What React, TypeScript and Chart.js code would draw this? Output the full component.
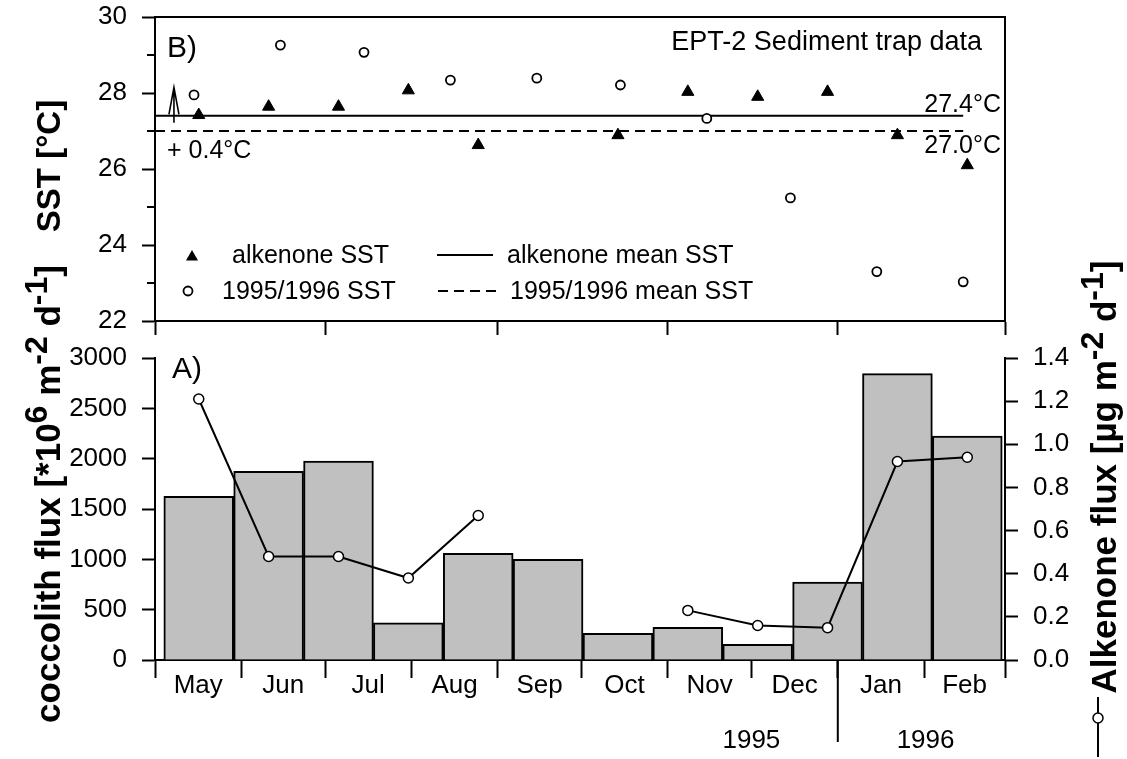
import React, { useEffect, useRef } from 'react';
import { Chart, registerables } from 'chart.js';

Chart.register(...registerables);

const FONT = '"Liberation Sans", Arial, Helvetica, sans-serif';

// ---------------- data (days counted from 1 May 1995) ----------------
const monthLabels = ['May', 'Jun', 'Jul', 'Aug', 'Sep', 'Oct', 'Nov', 'Dec', 'Jan', 'Feb'];
const monthBoundaryDays = [0, 31, 61, 92, 123, 153, 184, 214, 245, 276, 305];
const monthMidDays = [15.5, 46, 76.5, 107.5, 138, 168.5, 199, 229.5, 260.5, 290.5];
const topPanelTickDays = [0, 61, 123, 184, 245, 305];
const yearLabels = ['1995', '1996'];
const yearLabelDays = [214, 276.5];
const yearBoundaryDay = 245;

// sediment trap sampling intervals (mid points)
const trapMidDays = [15.7, 40.77, 65.84, 90.91, 115.98, 141.05, 166.12, 191.19, 216.26, 241.33, 266.4, 291.47];
const coccolithFlux = [1625, 1875, 1975, 370, 1060, 1000, 265, 325, 155, 775, 2845, 2225];
const alkenoneFlux = [1.21, 0.48, 0.48, 0.38, 0.67, null, null, 0.23, 0.16, 0.15, 0.92, 0.94];

// panel B
const alkenoneSSTDays = [15.7, 40.77, 65.84, 90.91, 115.98, 166.12, 191.19, 216.26, 241.33, 266.4, 291.47];
const alkenoneSST = [27.42, 27.64, 27.64, 28.07, 26.63, 26.89, 28.03, 27.9, 28.03, 26.89, 26.1];
const monthlySSTDays = [14, 45, 75, 106, 137, 167, 198, 228, 259, 290];
const monthlySST = [27.95, 29.26, 29.07, 28.34, 28.39, 28.21, 27.33, 25.24, 23.3, 23.03];
const alkenoneMeanSST = 27.4;
const monthlyMeanSST = 27.0;
const meanLineDays = [0, 290];
const arrowDay = 6.8;
const arrowFrom = 27.22;
const arrowTo = 28.15;

type Seg = { t: string; sup?: boolean };

function drawRotatedRich(ctx: CanvasRenderingContext2D, segs: Seg[], baselineX: number, centerY: number, size: number, supScale = 0.78) {
  const fN = `bold ${size}px ${FONT}`;
  const fS = `bold ${Math.round(size * supScale)}px ${FONT}`;
  ctx.save();
  ctx.translate(baselineX, centerY);
  ctx.rotate(-Math.PI / 2);
  const widths = segs.map((s) => {
    ctx.font = s.sup ? fS : fN;
    return ctx.measureText(s.t).width;
  });
  const total = widths.reduce((a, b) => a + b, 0);
  let lx = -total / 2;
  ctx.fillStyle = '#000';
  ctx.textBaseline = 'alphabetic';
  ctx.textAlign = 'left';
  segs.forEach((s, i) => {
    ctx.font = s.sup ? fS : fN;
    ctx.fillText(s.t, lx, s.sup ? -size * 0.38 : 0);
    lx += widths[i];
  });
  ctx.restore();
}

function drawTriangle(ctx: CanvasRenderingContext2D, x: number, y: number, r: number) {
  ctx.beginPath();
  for (let k = 0; k < 3; k++) {
    const a = (k * 2 * Math.PI) / 3;
    const px = x + Math.sin(a) * r;
    const py = y - Math.cos(a) * r;
    if (k === 0) ctx.moveTo(px, py);
    else ctx.lineTo(px, py);
  }
  ctx.closePath();
  ctx.fill();
}

const noPad = (s: any) => {
  s.paddingTop = 0;
  s.paddingBottom = 0;
  s.paddingLeft = 0;
  s.paddingRight = 0;
};

export default function App() {
  const topRef = useRef<HTMLCanvasElement | null>(null);
  const botRef = useRef<HTMLCanvasElement | null>(null);

  useEffect(() => {
    Chart.defaults.font.family = FONT;
    Chart.defaults.color = '#000';

    const tickFont = { family: FONT, size: 26 };
    const plainLabel = (v: any) => String(v);

    const topPlugin = {
      id: 'topDecor',
      afterDraw(chart: any) {
        const { ctx, chartArea: ca } = chart;
        const x = chart.scales.x;
        const y = chart.scales.y;
        ctx.save();
        ctx.strokeStyle = '#000';
        ctx.fillStyle = '#000';
        ctx.lineWidth = 2;
        ctx.strokeRect(ca.left, ca.top, ca.right - ca.left, ca.bottom - ca.top);
        // minor ticks
        for (let v = 23; v < 30; v += 2) {
          const py = y.getPixelForValue(v);
          ctx.beginPath();
          ctx.moveTo(ca.left - 8, py);
          ctx.lineTo(ca.left, py);
          ctx.stroke();
        }
        // arrow
        const ax = x.getPixelForValue(arrowDay);
        const yb = y.getPixelForValue(arrowFrom);
        const yt = y.getPixelForValue(arrowTo);
        ctx.lineWidth = 1.6;
        ctx.beginPath();
        ctx.moveTo(ax, yb);
        ctx.lineTo(ax, yt);
        ctx.moveTo(ax - 5, yt + 27);
        ctx.lineTo(ax, yt);
        ctx.lineTo(ax + 5, yt + 27);
        ctx.stroke();

        // texts
        ctx.textAlign = 'left';
        ctx.textBaseline = 'alphabetic';
        ctx.font = `30px ${FONT}`;
        ctx.fillText('B)', ca.left + 12, ca.top + 40);
        ctx.font = `27px ${FONT}`;
        ctx.textAlign = 'right';
        ctx.fillText('EPT-2 Sediment trap data', ca.right - 23, ca.top + 33);
        ctx.font = `25px ${FONT}`;
        ctx.fillText('27.4°C', ca.right - 4, y.getPixelForValue(alkenoneMeanSST) - 4);
        ctx.fillText('27.0°C', ca.right - 4, y.getPixelForValue(monthlyMeanSST) + 22);
        ctx.textAlign = 'left';
        ctx.fillText('+ 0.4°C', ca.left + 12, y.getPixelForValue(monthlyMeanSST) + 27);

        // legend
        const r1 = ca.top + 238;
        const r2 = ca.top + 274;
        ctx.textBaseline = 'middle';
        drawTriangle(ctx, ca.left + 37, r1 + 2, 7);
        ctx.fillText('alkenone SST', ca.left + 77, r1 + 1);
        ctx.beginPath();
        ctx.arc(ca.left + 33, r2, 4.5, 0, Math.PI * 2);
        ctx.fillStyle = '#fff';
        ctx.fill();
        ctx.lineWidth = 1.8;
        ctx.stroke();
        ctx.fillStyle = '#000';
        ctx.fillText('1995/1996 SST', ca.left + 67, r2 + 1);
        ctx.lineWidth = 2;
        ctx.beginPath();
        ctx.moveTo(ca.left + 282, r1);
        ctx.lineTo(ca.left + 338, r1);
        ctx.stroke();
        ctx.fillText('alkenone mean SST', ca.left + 352, r1 + 1);
        ctx.setLineDash([10, 6]);
        ctx.beginPath();
        ctx.moveTo(ca.left + 283, r2);
        ctx.lineTo(ca.left + 342, r2);
        ctx.stroke();
        ctx.setLineDash([]);
        ctx.fillText('1995/1996 mean SST', ca.left + 355, r2 + 1);

        // axis title
        drawRotatedRich(ctx, [{ t: 'SST [°C]' }], 60, 166, 33);
        ctx.restore();
      },
    };

    const topChart = new Chart(topRef.current as HTMLCanvasElement, {
      type: 'scatter',
      data: {
        datasets: [
          {
            label: '1995/1996 SST',
            data: monthlySSTDays.map((d, i) => ({ x: d, y: monthlySST[i] })),
            pointStyle: 'circle',
            pointRadius: 4.5,
            pointBackgroundColor: '#fff',
            pointBorderColor: '#000',
            pointBorderWidth: 1.8,
            showLine: false,
            order: 1,
          },
          {
            label: 'alkenone SST',
            data: alkenoneSSTDays.map((d, i) => ({ x: d, y: alkenoneSST[i] })),
            pointStyle: 'triangle',
            pointRadius: 7,
            pointBackgroundColor: '#000',
            pointBorderColor: '#000',
            pointBorderWidth: 1,
            showLine: false,
            order: 0,
          },
          {
            label: 'alkenone mean SST',
            data: meanLineDays.map((d) => ({ x: d, y: alkenoneMeanSST })),
            showLine: true,
            borderColor: '#000',
            borderWidth: 2,
            pointRadius: 0,
            order: 3,
          },
          {
            label: '1995/1996 mean SST',
            data: meanLineDays.map((d) => ({ x: d, y: monthlyMeanSST })),
            showLine: true,
            borderColor: '#000',
            borderWidth: 2,
            borderDash: [10, 6],
            pointRadius: 0,
            order: 2,
          },
        ],
      },
      options: {
        animation: false,
        responsive: false,
        layout: { padding: { left: 0, right: 122, top: 17, bottom: 0 } },
        plugins: { legend: { display: false }, tooltip: { enabled: false } },
        scales: {
          x: {
            type: 'linear',
            min: 0,
            max: 305,
            offset: false,
            afterBuildTicks: (s: any) => {
              s.ticks = topPanelTickDays.map((v) => ({ value: v }));
            },
            ticks: { display: false },
            grid: { offset: false, drawOnChartArea: false, drawTicks: true, tickLength: 14, tickWidth: 2, tickColor: '#000' },
            border: { display: true, color: '#000', width: 2 },
            afterFit: (s: any) => {
              s.height = 24;
              noPad(s);
            },
          },
          y: {
            type: 'linear',
            min: 22,
            max: 30,
            ticks: { stepSize: 2, font: tickFont, color: '#000', padding: 15, callback: plainLabel },
            grid: { drawOnChartArea: false, drawTicks: true, tickLength: 13, tickWidth: 2, tickColor: '#000' },
            border: { display: true, color: '#000', width: 2 },
            afterFit: (s: any) => {
              s.width = 155;
              noPad(s);
            },
          },
        },
      } as any,
      plugins: [topPlugin],
    } as any);

    const botPlugin = {
      id: 'botDecor',
      afterDraw(chart: any) {
        const { ctx, chartArea: ca } = chart;
        const x = chart.scales.x;
        ctx.save();
        ctx.fillStyle = '#000';
        ctx.strokeStyle = '#000';
        ctx.textAlign = 'left';
        ctx.textBaseline = 'alphabetic';
        ctx.font = `30px ${FONT}`;
        ctx.fillText('A)', ca.left + 17, ca.top + 20);

        // year separator
        const sx = x.getPixelForValue(yearBoundaryDay);
        ctx.lineWidth = 2;
        ctx.beginPath();
        ctx.moveTo(sx, ca.bottom);
        ctx.lineTo(sx, ca.bottom + 82);
        ctx.stroke();
        ctx.font = `26px ${FONT}`;
        ctx.textAlign = 'center';
        yearLabels.forEach((lab, i) => {
          ctx.fillText(lab, x.getPixelForValue(yearLabelDays[i]), ca.bottom + 88);
        });

        // axis titles
        drawRotatedRich(
          ctx,
          [
            { t: 'coccolith flux [*10' },
            { t: '6', sup: true },
            { t: ' m' },
            { t: '-2', sup: true },
            { t: ' d' },
            { t: '-1', sup: true },
            { t: ']' },
          ],
          60,
          494,
          35,
          0.9
        );
        drawRotatedRich(
          ctx,
          [
            { t: 'Alkenone flux [µg m' },
            { t: '-2', sup: true },
            { t: ' d' },
            { t: '-1', sup: true },
            { t: ']' },
          ],
          1116,
          477,
          35,
          0.9
        );
        // small legend glyph for alkenone flux
        ctx.lineWidth = 2;
        ctx.beginPath();
        ctx.moveTo(1098, 697);
        ctx.lineTo(1098, 757);
        ctx.stroke();
        ctx.beginPath();
        ctx.arc(1098, 718, 5, 0, Math.PI * 2);
        ctx.fillStyle = '#fff';
        ctx.fill();
        ctx.lineWidth = 1.5;
        ctx.stroke();
        ctx.restore();
      },
    };

    const botChart = new Chart(botRef.current as HTMLCanvasElement, {
      type: 'bar',
      data: {
        datasets: [
          {
            type: 'line',
            label: 'Alkenone flux',
            data: trapMidDays.map((d, i) => ({ x: d, y: alkenoneFlux[i] })),
            xAxisID: 'x',
            yAxisID: 'y2',
            borderColor: '#000',
            borderWidth: 2,
            pointRadius: 5,
            pointBackgroundColor: '#fff',
            pointBorderColor: '#000',
            pointBorderWidth: 1.5,
            spanGaps: false,
            order: 0,
          },
          {
            type: 'bar',
            label: 'Coccolith flux',
            data: trapMidDays.map((d, i) => ({ x: d, y: coccolithFlux[i] })),
            xAxisID: 'x',
            yAxisID: 'y',
            backgroundColor: '#c0c0c0',
            borderColor: '#000',
            borderWidth: 2,
            barPercentage: 1,
            categoryPercentage: 1,
            order: 1,
          },
        ],
      },
      options: {
        animation: false,
        responsive: false,
        layout: { padding: { left: 0, right: 0, top: 358, bottom: 0 } },
        plugins: { legend: { display: false }, tooltip: { enabled: false } },
        scales: {
          x: {
            type: 'linear',
            min: 0,
            max: 305,
            offset: false,
            position: 'bottom',
            weight: 0,
            afterBuildTicks: (s: any) => {
              s.ticks = monthBoundaryDays.map((v) => ({ value: v }));
            },
            ticks: { display: false },
            grid: { offset: false, drawOnChartArea: false, drawTicks: true, tickLength: 18, tickWidth: 2, tickColor: '#000' },
            border: { display: true, color: '#000', width: 2 },
            afterFit: (s: any) => {
              s.height = 0;
              noPad(s);
            },
          },
          xm: {
            type: 'linear',
            min: 0,
            max: 305,
            offset: false,
            position: 'bottom',
            weight: 1,
            afterBuildTicks: (s: any) => {
              s.ticks = monthMidDays.map((v) => ({ value: v }));
            },
            ticks: {
              callback: (_v: any, i: number) => monthLabels[i],
              font: tickFont,
              color: '#000',
              padding: 10,
              maxRotation: 0,
              autoSkip: false,
            },
            grid: { offset: false, display: false, drawTicks: false },
            border: { display: false },
            afterFit: (s: any) => {
              s.height = 99;
              noPad(s);
            },
          },
          y: {
            type: 'linear',
            position: 'left',
            min: 0,
            max: 3000,
            ticks: { stepSize: 500, font: tickFont, color: '#000', padding: 15, callback: plainLabel },
            grid: { drawOnChartArea: false, drawTicks: true, tickLength: 13, tickWidth: 2, tickColor: '#000' },
            border: { display: true, color: '#000', width: 2 },
            afterFit: (s: any) => {
              s.width = 155;
              noPad(s);
            },
          },
          y2: {
            type: 'linear',
            position: 'right',
            min: 0,
            max: 1.4,
            ticks: {
              stepSize: 0.2,
              font: tickFont,
              color: '#000',
              padding: 15,
              callback: (v: any) => Number(v).toFixed(1),
            },
            grid: { drawOnChartArea: false, drawTicks: true, tickLength: 13, tickWidth: 2, tickColor: '#000' },
            border: { display: true, color: '#000', width: 2 },
            afterFit: (s: any) => {
              s.width = 122;
              noPad(s);
            },
          },
        },
      } as any,
      plugins: [botPlugin],
    } as any);

    return () => {
      topChart.destroy();
      botChart.destroy();
    };
  }, []);

  return (
    <div style={{ position: 'fixed', left: 0, top: 0, width: 1127, height: 759, background: '#fff' }}>
      <canvas ref={topRef} width={1127} height={345} style={{ position: 'absolute', left: 0, top: 0 }} />
      <canvas ref={botRef} width={1127} height={759} style={{ position: 'absolute', left: 0, top: 0 }} />
    </div>
  );
}
